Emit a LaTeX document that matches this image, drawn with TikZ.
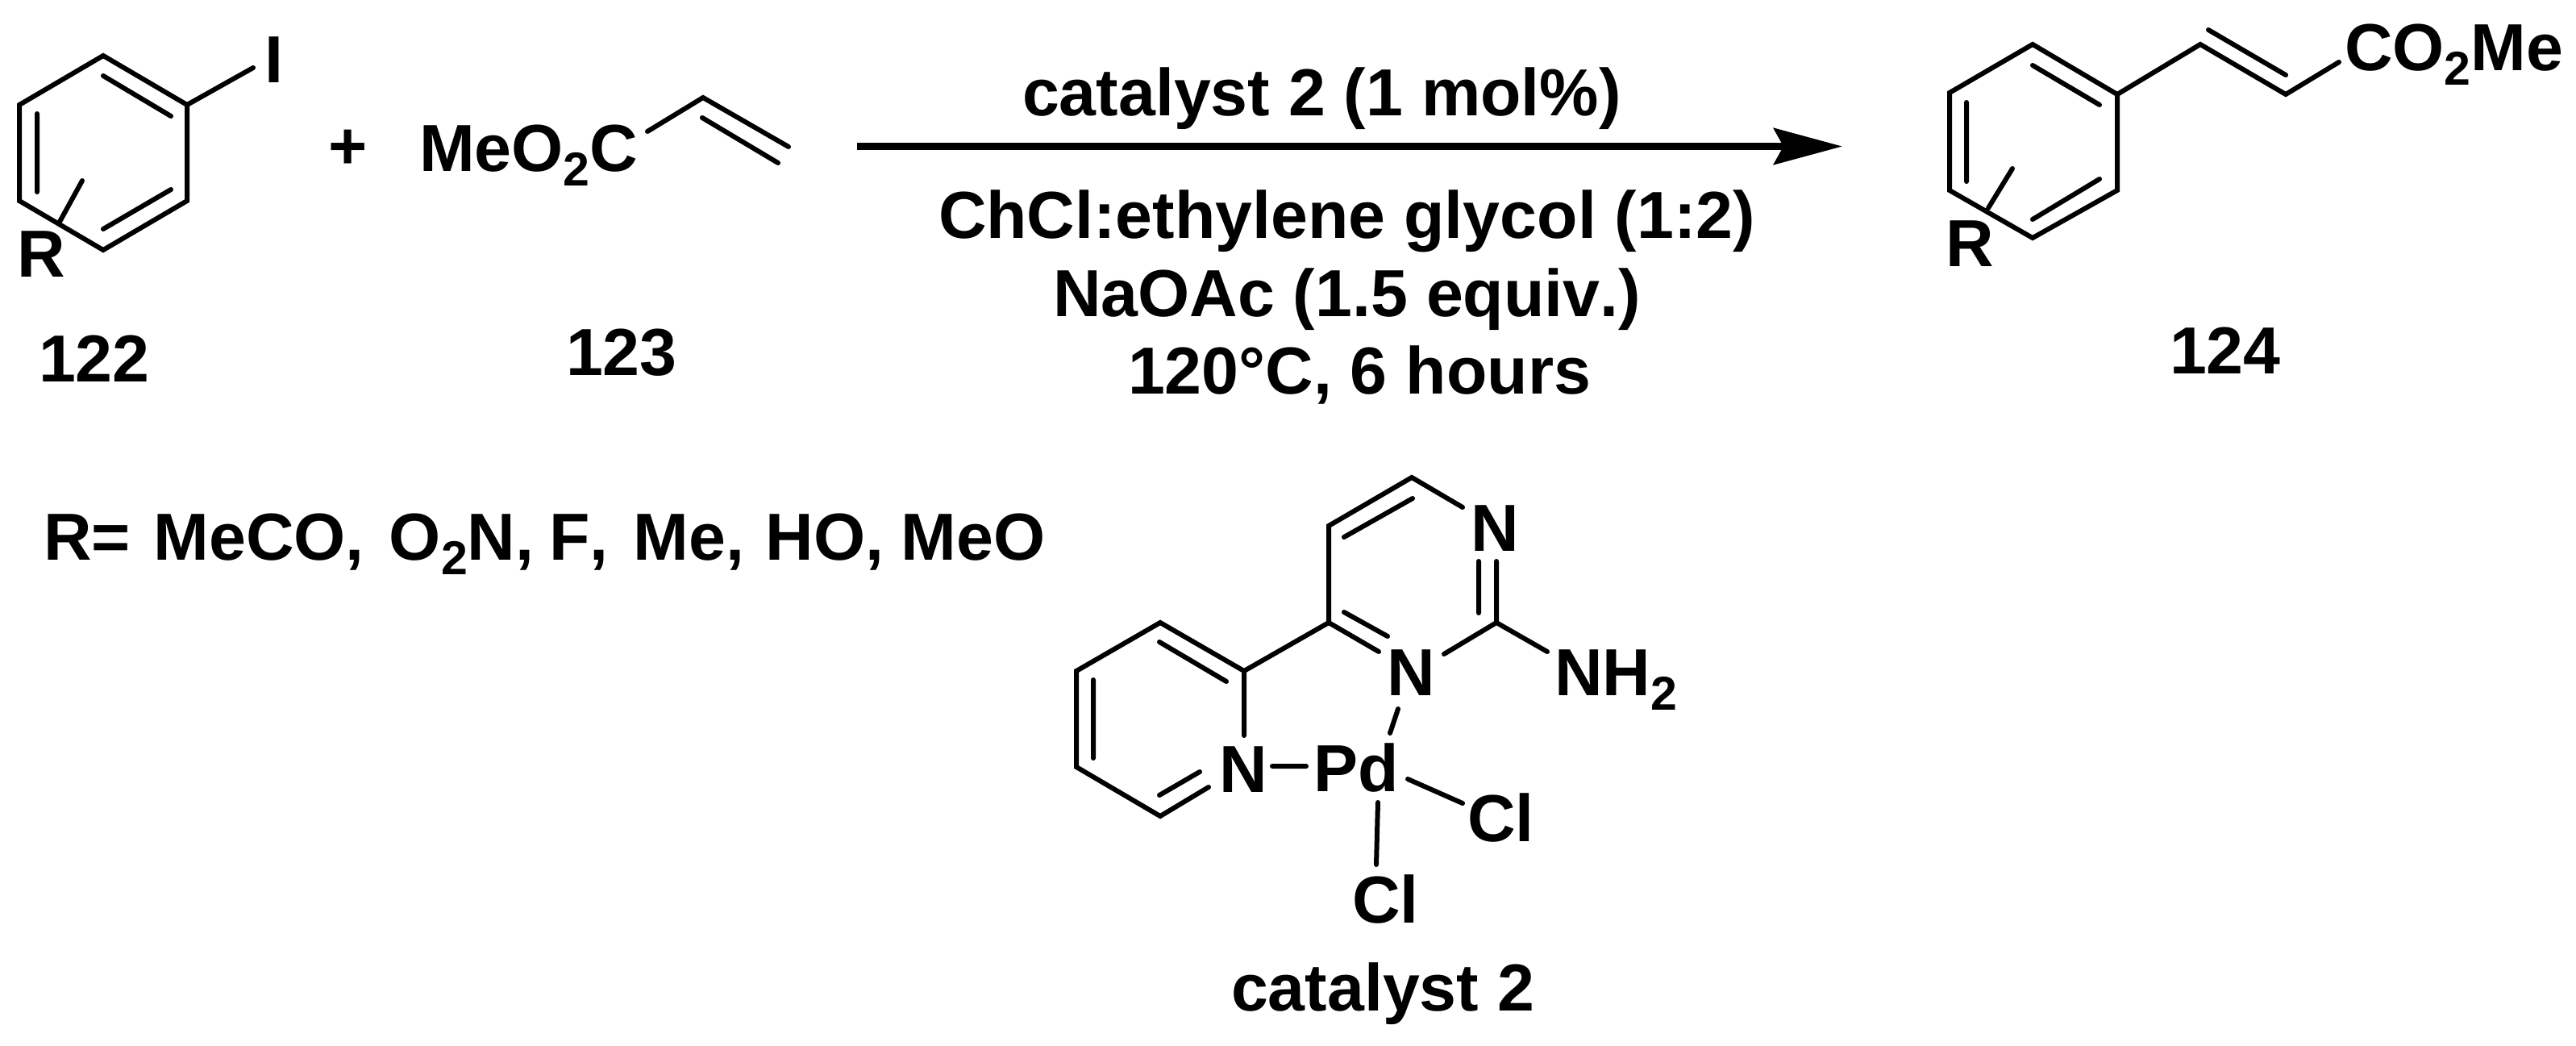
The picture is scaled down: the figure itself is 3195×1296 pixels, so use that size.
\documentclass[tikz,border=0pt]{standalone}
\usepackage{fontspec}
\setmainfont{Liberation Sans}[BoldFont={* Bold},Kerning=Off]
\usetikzlibrary{arrows.meta}
\newcommand{\lsub}[1]{\raisebox{-18pt}{\fontsize{59}{59}\selectfont #1}}
\tikzset{
  lbl/.style={anchor=base west,inner sep=0pt,outer sep=0pt,font=\fontsize{82.5}{90}\selectfont\bfseries},
  bond/.style={line width=6pt,line cap=round,line join=miter,black},
  rxnarrow/.style={line width=9pt,black,-{Stealth[length=85pt,width=45pt,inset=12pt]}}
}
\begin{document}
\begin{tikzpicture}[x=1pt,y=-1pt]
\useasboundingbox (0,0) rectangle (3195,1296);
\fill[white] (0,0) rectangle (3195,1296);
% ---- iodobenzene 122
\foreach \n/\x/\y in {a1/128/69,a2/232/130,a3/232/249,a4/128/310,a5/24/249,a6/24/130,
  a7/128/94,a8/212/144,a9/212/235,a10/128/284,a11/46/141,a12/46/238,
  a13/314/84,a14/74/275,a15/102/224}
  \coordinate (\n) at (\x,\y);
\draw[bond] (a1)--(a2)--(a3)--(a4)--(a5)--(a6)--cycle;
\draw[bond] (a7)--(a8) (a9)--(a10) (a11)--(a12) (a2)--(a13) (a14)--(a15);
\node[lbl] (iodo) at (328,102) {I};
\node[lbl] (r1) at (21,343) {R};
\node[lbl] (n122) at (48,473) {122};
\node[lbl] (plus) at (407,209) {+};
% ---- acrylate 123
\foreach \n/\x/\y in {b1/803/163,b2/872/121,b3/978/182,b4/871/146,b5/965/202}
  \coordinate (\n) at (\x,\y);
\draw[bond] (b1)--(b2)--(b3) (b4)--(b5);
\node[lbl] (acr) at (520,212) {MeO\lsub{2}C};
\node[lbl] (n123) at (702,465) {123};
% ---- arrow and conditions
\coordinate (ar1) at (1063,181.5);
\coordinate (ar2) at (2285,181.5);
\draw[rxnarrow] (ar1)--(ar2);
\node[lbl] (c1) at (1268,143) {catalyst 2 (1 mol\%)};
\node[lbl] (c2) at (1164,295) {ChCl:ethylene glycol (1:2)};
\node[lbl] (c3) at (1306,392) {NaOAc (1.5 equiv.)};
\node[lbl] (c4) at (1399,488) {120°C, 6 hours};
% ---- product 124
\foreach \n/\x/\y in {p1/2521/55,p2/2626/117,p3/2626/236,p4/2521/295,p5/2418/236,p6/2418/115,
  p7/2521/81,p8/2604/130,p9/2604/222,p10/2521/272,p11/2439/127,p12/2439/225,
  p13/2466/258,p14/2496/209,p15/2729/55,p16/2835/117,p17/2901/77,p18/2739/37,p19/2835/93}
  \coordinate (\n) at (\x,\y);
\draw[bond] (p1)--(p2)--(p3)--(p4)--(p5)--(p6)--cycle;
\draw[bond] (p7)--(p8) (p9)--(p10) (p11)--(p12) (p13)--(p14);
\draw[bond] (p2)--(p15)--(p16)--(p17) (p18)--(p19);
\node[lbl] (r2) at (2413,330) {R};
\node[lbl] (prod) at (2908,87) {CO\lsub{2}Me};
\node[lbl] (n124) at (2691,463) {124};
% ---- R list
\node[lbl] (rlist) at (54,694) {R=\hspace{6pt} MeCO,\hspace{8pt} O\lsub{2}N,\hspace{-4pt} F,\hspace{8pt} Me,\hspace{4pt} HO,\hspace{-2pt} MeO};
% ---- catalyst 2
\foreach \n/\x/\y in {q1/1751/592,q2/1648/652,q3/1648/772,q4/1856/772,q5/1856/696,q6/1814/629,
  q7/1752/618,q8/1667/666,q9/1834/696,q10/1834/760,q11/1710/808,q12/1667/759,q13/1721/789,
  q14/1791/811,q15/1919/808,q16/1734/879,q17/1724/909,
  y1/1543/832,y2/1439/772,y3/1335/832,y4/1335/951,y5/1439/1012,y6/1499/976,y7/1543/912,
  y8/1438/796,y9/1521/845,y10/1356/843,y11/1356/940,y12/1438/986,y13/1488/957,
  d1/1578/950,d2/1620/950,d3/1746/966,d4/1814/996,d5/1709/995,d6/1707/1072}
  \coordinate (\n) at (\x,\y);
\draw[bond] (q6)--(q1)--(q2)--(q3)--(q11) (q5)--(q4)--(q14) (q4)--(q15);
\draw[bond] (q7)--(q8) (q9)--(q10) (q12)--(q13) (q16)--(q17);
\draw[bond] (q3)--(y1)--(y2)--(y3)--(y4)--(y5)--(y6) (y1)--(y7);
\draw[bond] (y8)--(y9) (y10)--(y11) (y12)--(y13);
\draw[bond] (d1)--(d2) (d3)--(d4) (d5)--(d6);
\node[lbl] (n1) at (1824,683) {N};
\node[lbl] (n3) at (1720,862) {N};
\node[lbl] (nh2) at (1928,862) {NH\lsub{2}};
\node[lbl] (n2) at (1512,982) {N};
\node[lbl] (pd) at (1629,981) {Pd};
\node[lbl] (cl1) at (1820,1043) {Cl};
\node[lbl] (cl2) at (1677,1144) {Cl};
\node[lbl] (catname) at (1527,1253) {catalyst 2};
\end{tikzpicture}
\end{document}
